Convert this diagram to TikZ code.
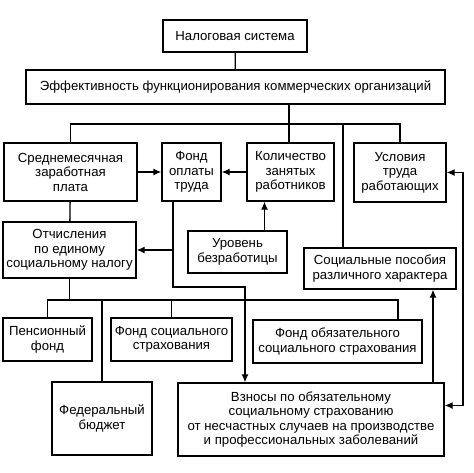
\documentclass[tikz,border=0pt]{standalone}
\usepackage{fontspec}
\setmainfont{Liberation Sans}
\usetikzlibrary{arrows.meta,positioning}

\begin{document}
\begin{tikzpicture}[x=1pt,y=-1pt,line width=1.3pt,
  blok/.style={draw,align=center,inner sep=0pt,
    font=\fontsize{13.2}{14.5}\selectfont},
  >={Latex[length=8pt,width=7pt]}]
\useasboundingbox (0,0) rectangle (474,472);

% Top levels
\node[blok,minimum width=144pt,minimum height=32pt] (nalog) at (235,36) {Налоговая система};
\node[blok,minimum width=419pt,minimum height=34pt] (eff) at (235.5,87)
  {Эффективность функционирования коммерческих организаций};

% Factors
\node[blok,minimum width=133pt,minimum height=58pt] (sred) at (70.5,172) {Среднемесячная\\заработная\\плата};
\node[blok,minimum width=59pt,minimum height=58pt] (fond) at (191.5,172) {Фонд\\оплаты\\труда};
\node[blok,minimum width=87pt,minimum height=58pt] (kol) at (290.5,172) {Количество\\занятых\\работников};
\node[blok,minimum width=92pt,minimum height=59pt] (usl) at (400,172.5) {Условия\\труда\\работающих};
\node[blok,minimum width=133pt,minimum height=56pt] (otch) at (69.5,250) {Отчисления\\по единому\\социальному налогу};
\node[blok,minimum width=99pt,minimum height=42pt] (urov) at (237.5,252) {Уровень\\безработицы};
\node[blok,minimum width=152pt,minimum height=41pt] (socp) at (380,268.5) {Социальные пособия\\различного характера};

% Funds
\node[blok,minimum width=89pt,minimum height=43pt] (pens) at (47.5,339.5) {Пенсионный\\фонд};
\node[blok,minimum width=121pt,minimum height=43pt] (fss) at (171.5,339.5) {Фонд социального\\страхования};
\node[blok,minimum width=169pt,minimum height=43pt] (foms) at (337.5,341.5) {Фонд обязательного\\социального страхования};
\node[blok,minimum width=100pt,minimum height=73pt] (fed) at (102,418.5) {Федеральный\\бюджет};
\node[blok,minimum width=266pt,minimum height=73pt] (vzn) at (311,419.5)
  {Взносы по обязательному\\социальному страхованию\\от несчастных случаев на производстве\\и профессиональных заболеваний};

% Bus points
\coordinate (b1) at (289,124);
\coordinate (s1) at (343,124);
\coordinate (b2) at (398,300);
\coordinate (f1) at (173,287);
\coordinate (f2) at (245,287);
\coordinate (r1) at (433,0);
\coordinate (r2) at (463,0);
\coordinate (v1) at ([yshift=14pt]vzn.east);

% Connectors
\draw (nalog) -- (eff);
\draw (eff.south -| b1) -- (b1);
\draw (sred.north) |- (usl.north |- b1) -- (usl.north);
\draw (b1) -- (b1 |- kol.north);
\draw (s1) -- (s1 |- socp.north);
\draw[->] (sred) -- (fond);
\draw[->] (kol) -- (fond);
\draw[->] ([xshift=27pt]urov.north) -- ([xshift=27pt]urov.north |- kol.south);
\draw (sred) -- (otch);
\draw[->] (fond.south -| f1) -- (f1) -- (f2) -- (f2 |- vzn.north);
\draw[->] (f1 |- otch.east) -- (otch.east);
\draw (otch.south) -- (otch.south |- b2);
\draw (pens.north) |- (b2) -- (b2 |- foms.north);
\draw (fed.north) -- (fed.north |- b2);
\draw (fss.north) -- (fss.north |- b2);
\draw[->] (r1 |- vzn.north) -- (r1 |- socp.south);
\draw[<->] (usl.east) -- (r2 |- usl.east) -- (r2 |- v1) -- (v1);
\end{tikzpicture}
\end{document}
